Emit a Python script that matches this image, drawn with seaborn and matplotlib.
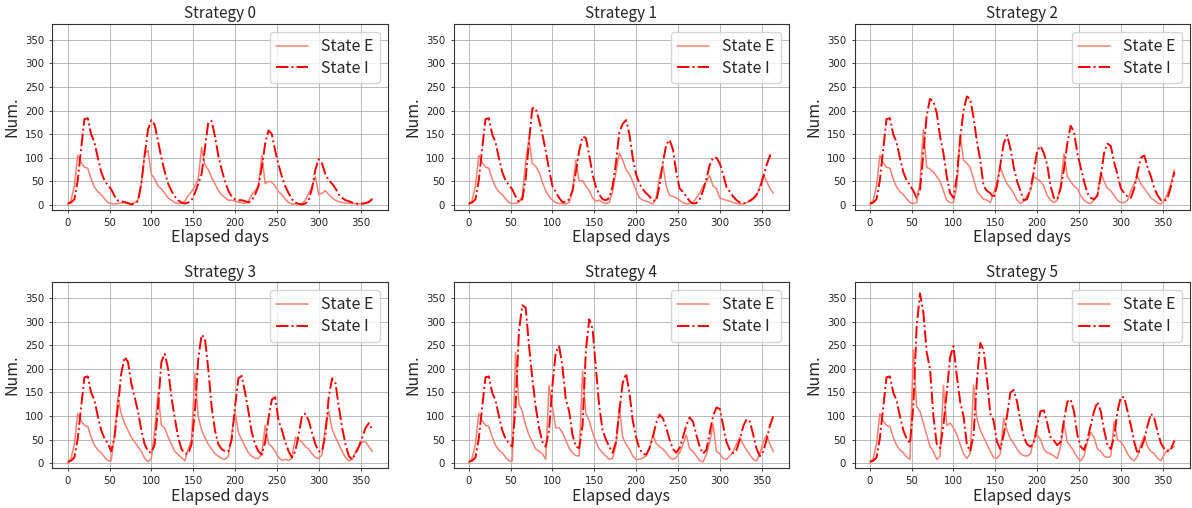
import numpy as np
import matplotlib
matplotlib.use("Agg")
import matplotlib.pyplot as plt
import seaborn as sns

# values every 4 days (day 0 .. 364)
days = np.arange(0, 365, 4)

e_s0 = [0, 10, 40, 105, 90, 80, 78, 55, 38, 28,
        22, 13, 5, 3, 2, 3, 4, 5, 3, 2,
        5, 10, 45, 110, 115, 65, 55, 40, 34, 25,
        15, 10, 5, 3, 3, 8, 20, 28, 40, 55,
        122, 85, 75, 58, 45, 30, 22, 15, 10, 10,
        8, 6, 5, 3, 8, 22, 30, 40, 105, 45,
        50, 48, 40, 28, 22, 12, 5, 2, 2, 3,
        3, 10, 25, 38, 60, 22, 25, 30, 22, 15,
        10, 7, 5, 4, 4, 3, 3, 2, 2, 3,
        8, 13]
i_s0 = [3, 5, 12, 52, 118, 182, 184, 150, 133, 100,
        70, 52, 42, 33, 19, 9, 8, 6, 4, 1,
        3, 8, 45, 105, 160, 180, 170, 135, 100, 70,
        45, 30, 18, 10, 5, 3, 5, 10, 25, 45,
        65, 120, 175, 178, 145, 105, 75, 50, 30, 18,
        12, 10, 10, 8, 5, 10, 22, 40, 80, 130,
        158, 150, 115, 85, 60, 40, 25, 12, 5, 2,
        1, 3, 10, 35, 75, 97, 88, 65, 52, 45,
        35, 22, 15, 10, 8, 5, 3, 2, 3, 4,
        6, 12]

e_s1 = [0, 10, 40, 105, 90, 80, 78, 55, 38, 28,
        22, 13, 5, 3, 4, 5, 20, 90, 140, 88,
        82, 70, 48, 30, 18, 10, 5, 3, 3, 2,
        5, 30, 95, 50, 52, 40, 30, 15, 8, 10,
        5, 3, 5, 30, 70, 110, 95, 75, 65, 50,
        30, 15, 10, 8, 5, 2, 15, 60, 85, 40,
        20, 18, 15, 10, 5, 2, 3, 5, 15, 25,
        40, 50, 62, 40, 35, 15, 12, 10, 8, 5,
        3, 2, 2, 5, 8, 12, 20, 40, 65, 50,
        35, 25]
i_s1 = [3, 5, 12, 52, 118, 182, 184, 150, 133, 100,
        70, 52, 42, 33, 18, 6, 12, 55, 135, 205,
        205, 180, 150, 115, 75, 40, 28, 15, 6, 6,
        12, 30, 70, 115, 145, 142, 105, 65, 38, 22,
        12, 10, 15, 40, 90, 155, 172, 180, 150, 100,
        65, 45, 33, 25, 18, 10, 8, 40, 90, 128,
        138, 118, 70, 35, 28, 18, 8, 3, 4, 12,
        30, 55, 85, 100, 100, 88, 65, 38, 28, 18,
        10, 5, 3, 5, 9, 14, 22, 35, 60, 85,
        105, 105]

e_s2 = [0, 10, 40, 105, 90, 80, 78, 55, 38, 28,
        22, 13, 5, 3, 5, 50, 160, 80, 76, 70,
        60, 50, 30, 10, 5, 5, 40, 148, 95, 88,
        80, 55, 30, 20, 12, 10, 5, 25, 50, 80,
        60, 45, 35, 25, 10, 3, 8, 20, 30, 60,
        55, 50, 40, 20, 10, 5, 10, 40, 108, 60,
        50, 40, 35, 20, 10, 5, 3, 10, 20, 70,
        50, 35, 30, 20, 10, 5, 5, 10, 30, 45,
        60, 45, 35, 25, 15, 10, 3, 2, 10, 25,
        45, 75]
i_s2 = [3, 5, 12, 52, 118, 182, 184, 150, 133, 100,
        70, 52, 42, 30, 15, 30, 110, 190, 225, 220,
        195, 145, 110, 60, 25, 15, 60, 140, 200, 230,
        225, 185, 135, 95, 40, 30, 25, 15, 40, 85,
        130, 148, 120, 80, 50, 30, 10, 12, 35, 70,
        115, 125, 110, 85, 40, 15, 12, 35, 75, 130,
        168, 155, 110, 80, 50, 25, 15, 12, 20, 60,
        110, 130, 125, 90, 65, 35, 25, 18, 15, 35,
        70, 100, 105, 80, 60, 35, 20, 10, 8, 15,
        40, 70]

e_s3 = [0, 10, 40, 105, 90, 80, 78, 55, 38, 28,
        22, 13, 5, 5, 60, 140, 105, 85, 70, 55,
        45, 35, 25, 10, 3, 10, 70, 150, 80, 75,
        55, 40, 25, 18, 12, 5, 30, 50, 190, 100,
        70, 55, 40, 30, 20, 15, 10, 8, 15, 60,
        110, 65, 50, 35, 22, 15, 10, 10, 20, 80,
        42, 35, 25, 12, 6, 8, 6, 10, 55, 50,
        45, 35, 30, 20, 12, 10, 18, 80, 110, 72,
        55, 40, 25, 12, 5, 8, 25, 35, 45, 45,
        35, 25]
i_s3 = [3, 5, 12, 52, 118, 182, 184, 150, 133, 100,
        70, 52, 42, 25, 55, 120, 190, 225, 215, 170,
        140, 110, 70, 40, 25, 22, 40, 120, 215, 232,
        200, 140, 95, 55, 30, 20, 20, 40, 110, 220,
        272, 265, 200, 120, 70, 40, 30, 25, 25, 50,
        120, 180, 185, 150, 110, 65, 40, 25, 18, 45,
        95, 135, 140, 90, 70, 45, 25, 12, 25, 60,
        100, 105, 90, 65, 40, 25, 25, 60, 140, 180,
        170, 120, 75, 40, 15, 8, 20, 35, 55, 75,
        85, 70]

e_s4 = [0, 10, 40, 105, 90, 80, 78, 55, 38, 28,
        22, 13, 5, 5, 235, 125, 110, 80, 60, 45,
        30, 25, 20, 8, 165, 120, 75, 75, 65, 48,
        32, 22, 16, 15, 195, 105, 90, 65, 45, 30,
        22, 15, 8, 10, 40, 120, 55, 40, 30, 15,
        8, 8, 11, 15, 30, 60, 42, 35, 30, 22,
        12, 8, 12, 22, 40, 60, 30, 25, 15, 5,
        3, 18, 45, 82, 25, 20, 10, 8, 15, 25,
        40, 55, 40, 28, 18, 8, 5, 20, 45, 60,
        40, 25]
i_s4 = [3, 5, 12, 52, 118, 182, 184, 150, 133, 100,
        70, 52, 42, 35, 120, 280, 335, 330, 250, 180,
        120, 75, 45, 35, 70, 165, 235, 248, 205, 135,
        110, 60, 35, 32, 80, 240, 305, 285, 200, 120,
        70, 50, 35, 22, 45, 110, 170, 190, 150, 90,
        55, 30, 20, 18, 32, 55, 85, 103, 95, 75,
        50, 30, 22, 32, 55, 80, 97, 88, 60, 35,
        20, 28, 65, 100, 118, 115, 80, 45, 28, 21,
        28, 50, 78, 93, 88, 60, 30, 15, 25, 50,
        80, 100]

e_s5 = [0, 10, 40, 105, 90, 80, 78, 55, 38, 28,
        22, 13, 8, 240, 120, 110, 85, 60, 35, 25,
        8, 15, 165, 80, 85, 75, 60, 40, 20, 10,
        20, 165, 95, 70, 55, 40, 25, 12, 10, 20,
        95, 70, 52, 42, 30, 20, 16, 15, 20, 50,
        60, 50, 30, 22, 20, 15, 10, 35, 85, 45,
        35, 25, 12, 5, 15, 45, 65, 55, 30, 25,
        15, 12, 15, 88, 50, 45, 35, 20, 10, 5,
        15, 40, 58, 35, 25, 20, 10, 5, 20, 28,
        30, 35]
i_s5 = [3, 5, 12, 52, 118, 182, 184, 150, 133, 100,
        70, 52, 42, 120, 290, 360, 320, 235, 200, 100,
        40, 32, 80, 150, 225, 248, 185, 130, 100, 40,
        25, 60, 175, 255, 240, 180, 105, 90, 45, 30,
        60, 100, 150, 155, 130, 90, 55, 40, 35, 42,
        80, 110, 112, 85, 55, 48, 38, 45, 90, 130,
        135, 110, 60, 35, 28, 50, 80, 110, 130, 110,
        70, 38, 30, 55, 110, 140, 140, 110, 80, 45,
        20, 30, 50, 80, 105, 95, 65, 42, 30, 25,
        30, 48]

strategies = ["Strategy 0", "Strategy 1", "Strategy 2",
              "Strategy 3", "Strategy 4", "Strategy 5"]
state_e = [e_s0, e_s1, e_s2, e_s3, e_s4, e_s5]
state_i = [i_s0, i_s1, i_s2, i_s3, i_s4, i_s5]

sns.set_style("ticks")
plt.rcParams['font.family'] = ['DejaVu Sans']
jp_font = ['Noto Sans CJK JP', 'DejaVu Sans']

fig, axes = plt.subplots(2, 3, figsize=(11.92, 5.08), dpi=100)
fig.subplots_adjust(left=0.044, right=0.998, top=0.953, bottom=0.079,
                    wspace=0.197, hspace=0.39)

for ax, title, e_vals, i_vals in zip(axes.flat, strategies, state_e, state_i):
    sns.lineplot(x=days[:len(e_vals)], y=e_vals, ax=ax, color='salmon',
                 linewidth=1.1, label='State E')
    sns.lineplot(x=days[:len(i_vals)], y=i_vals, ax=ax, color='red',
                 linestyle='-.', linewidth=1.4, label='State I')
    ax.set_ylim(-10, 384)
    ax.set_yticks(np.arange(0, 351, 50))
    ax.set_xticks(np.arange(0, 351, 50))
    ax.grid(True, color='#b0b0b0', linewidth=0.6)
    ax.tick_params(labelsize=7.3, length=2.5, width=0.6, colors='#222222')
    for sp in ax.spines.values():
        sp.set_color('#333333')
        sp.set_linewidth(0.8)
    ax.set_title(title, fontsize=11, family=jp_font, pad=4)
    ax.set_xlabel('Elapsed days', fontsize=11.5, family=jp_font, labelpad=1)
    ax.set_ylabel('Num.', fontsize=11.5, family=jp_font, labelpad=3)
    ax.legend(loc='upper right', prop={'family': jp_font, 'size': 11.5},
              borderpad=0.4, labelspacing=0.3, handletextpad=0.8)

fig.savefig('out.png', dpi=100)
